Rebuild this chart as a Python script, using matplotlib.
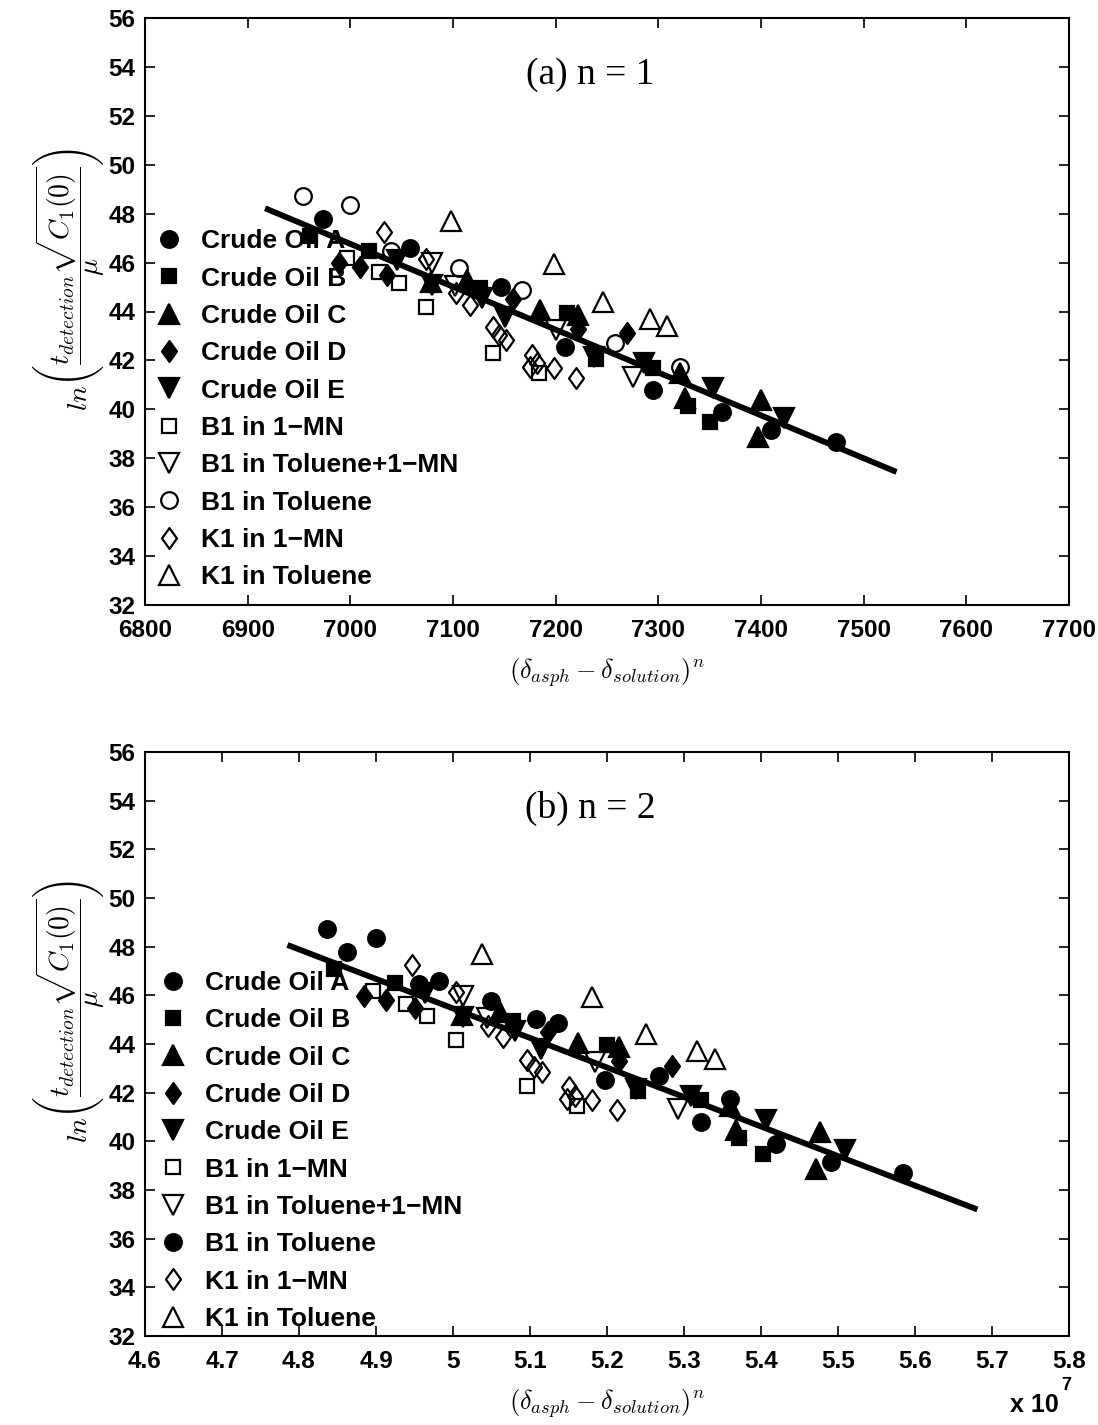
import numpy as np
import matplotlib
matplotlib.use("Agg")
import matplotlib.pyplot as plt
from matplotlib.path import Path
from matplotlib.lines import Line2D
from matplotlib.ticker import FuncFormatter

plt.rcParams['font.family'] = ['Liberation Sans', 'DejaVu Sans']
plt.rcParams['mathtext.fontset'] = 'cm'

# (delta_asph - delta_solution) and ln(t*sqrt(C1)/mu) for every sample set
oil_a_d = [6973, 7058, 7147, 7209, 7295, 7362, 7410, 7473]
oil_a_y = [47.78, 46.58, 45.01, 42.54, 40.79, 39.90, 39.16, 38.68]
oil_b_d = [6961, 7018, 7126, 7211, 7239, 7295, 7329, 7350]
oil_b_y = [47.10, 46.49, 44.95, 43.95, 42.05, 41.68, 40.14, 39.50]
oil_c_d = [7079, 7114, 7185, 7222, 7321, 7326, 7400, 7397]
oil_c_y = [45.20, 45.30, 44.06, 43.86, 41.47, 40.45, 40.38, 38.88]
oil_d_d = [6989, 7009, 7036, 7158, 7222, 7269]
oil_d_y = [45.97, 45.81, 45.49, 44.50, 43.30, 43.11]
oil_e_d = [7045, 7080, 7128, 7151, 7237, 7286, 7353, 7422]
oil_e_y = [46.10, 45.10, 44.54, 43.79, 42.15, 41.88, 40.86, 39.63]
b1_mn_d = [6997, 7028, 7047, 7074, 7139, 7184]
b1_mn_y = [46.18, 45.63, 45.15, 44.17, 42.29, 41.47]
b1_tm_d = [7080, 7102, 7200, 7275]
b1_tm_y = [45.97, 45.05, 43.24, 41.34]
b1_tol_d = [6954, 7000, 7040, 7106, 7167, 7258, 7321]
b1_tol_y = [48.72, 48.35, 46.47, 45.78, 44.88, 42.70, 41.74]
k1_mn_d = [7033, 7074, 7103, 7117, 7139, 7145, 7152, 7175, 7177, 7182, 7198, 7220]
k1_mn_y = [47.24, 46.15, 44.74, 44.27, 43.35, 43.05, 42.84, 41.74, 42.22, 41.88, 41.68, 41.27]
k1_tol_d = [7098, 7198, 7246, 7292, 7308]
k1_tol_y = [47.70, 45.94, 44.40, 43.70, 43.40]

# fitted lines (end points) for n = 1 and n = 2
fit1_x = [6917, 7532]
fit1_y = [48.22, 37.44]
fit2_x = [4.785e7, 5.681e7]
fit2_y = [48.07, 37.20]

labels = ['Crude Oil A', 'Crude Oil B', 'Crude Oil C', 'Crude Oil D', 'Crude Oil E',
          'B1 in 1\u2212MN', 'B1 in Toluene+1\u2212MN', 'B1 in Toluene',
          'K1 in 1\u2212MN', 'K1 in Toluene']

diamond = Path([(0, 1), (0.72, 0), (0, -1), (-0.72, 0), (0, 1)],
               [Path.MOVETO, Path.LINETO, Path.LINETO, Path.LINETO, Path.CLOSEPOLY])

series = [
    (oil_a_d, oil_a_y, 'o', True, 12),
    (oil_b_d, oil_b_y, 's', True, 10),
    (oil_c_d, oil_c_y, '^', True, 14),
    (oil_d_d, oil_d_y, diamond, True, 15),
    (oil_e_d, oil_e_y, 'v', True, 14),
    (b1_mn_d, b1_mn_y, 's', False, 10),
    (b1_tm_d, b1_tm_y, 'v', False, 14),
    (b1_tol_d, b1_tol_y, 'o', False, 12),
    (k1_mn_d, k1_mn_y, diamond, False, 15),
    (k1_tol_d, k1_tol_y, '^', False, 14),
]


def panel(ax, n, fit_x, fit_y, title, leg_anchor, leg_space):
    handles = []
    for i, (d, y, m, filled, ms) in enumerate(series):
        # in the n = 2 panel the B1/toluene set came out filled
        fill = filled or (n == 2 and i == 7)
        fc = 'k' if fill else 'none'
        x = np.array(d, dtype=float) ** n
        ax.plot(x, y, ls='none', marker=m, ms=ms, mfc=fc, mec='k', mew=1.6)
        handles.append(Line2D([], [], ls='none', marker=m, ms=ms, mfc=fc, mec='k', mew=1.6))
    ax.plot(fit_x, fit_y, color='k', lw=4.2, solid_capstyle='butt')

    ax.set_ylim(32, 56)
    ax.set_yticks(np.arange(32, 57, 2))
    for s in ax.spines.values():
        s.set_linewidth(1.5)
    ax.tick_params(direction='in', top=True, right=True, length=7, width=1.2,
                   labelsize=17.5, pad=7)
    ax.tick_params(axis='x', pad=10)
    for t in ax.get_xticklabels() + ax.get_yticklabels():
        t.set_fontweight('bold')

    ax.text(0.482, 0.903, title, transform=ax.transAxes, ha='center', va='center',
            fontsize=27, family='Liberation Serif')
    ax.set_xlabel(r'$(\delta_{asph}-\delta_{solution})^n$', fontsize=19, labelpad=10)
    ax.set_ylabel(r'$ln\left(\dfrac{t_{detection}\sqrt{C_1(0)}}{\mu}\right)$',
                  fontsize=20)
    ax.yaxis.set_label_coords(-0.042, 0.555)
    ax.legend(handles, labels, loc='upper left', bbox_to_anchor=leg_anchor,
              frameon=False, prop={'weight': 'bold', 'size': 19},
              borderaxespad=0, borderpad=0, handlelength=1.0,
              handletextpad=0.7, labelspacing=leg_space)


fig = plt.figure(figsize=(10.98, 14.25), dpi=100)
ax1 = fig.add_axes([145 / 1098, 1 - 605 / 1425, 924 / 1098, 587 / 1425])
ax2 = fig.add_axes([145 / 1098, 1 - 1336 / 1425, 924 / 1098, 584 / 1425])

ax1.set_xlim(6800, 7700)
ax1.set_xticks(np.arange(6800, 7701, 100))
panel(ax1, 1, fit1_x, fit1_y, '(a) n = 1', (0.012, 0.640), 0.505)

ax2.set_xlim(4.6e7, 5.8e7)
ax2.set_xticks(np.arange(46, 59) * 1e6)
ax2.xaxis.set_major_formatter(FuncFormatter(lambda v, p: '%g' % round(v / 1e7, 2)))
panel(ax2, 2, fit2_x, fit2_y, '(b) n = 2', (0.016, 0.625), 0.505)
for t in ax2.get_xticklabels():
    t.set_fontweight('bold')

fig.text(1059 / 1098, 1 - 1405 / 1425, 'x 10', ha='right', va='center',
         fontsize=18, fontweight='bold')
fig.text(1061 / 1098, 1 - 1386 / 1425, '7', ha='left', va='center',
         fontsize=13, fontweight='bold')

fig.savefig('out.png', dpi=100)
